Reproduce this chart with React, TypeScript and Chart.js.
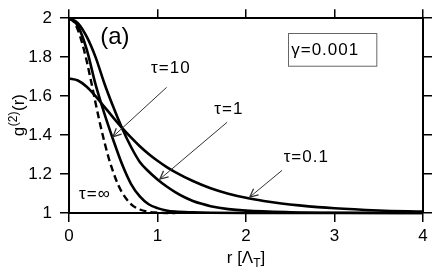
import React, { useEffect, useRef } from "react";
import { Chart, registerables } from "chart.js";
Chart.register(...registerables);

// r in units of thermal wavelength, g2 values
const rInf = [0, 0.05, 0.1, 0.15, 0.2, 0.25, 0.3, 0.35, 0.4, 0.45, 0.5, 0.55, 0.6, 0.7, 0.8, 0.9, 1.0, 1.1, 1.2];
const gInf = [2.0, 1.985, 1.94, 1.87, 1.78, 1.675, 1.565, 1.46, 1.365, 1.28, 1.21, 1.15, 1.105, 1.046, 1.018, 1.006, 1.002, 1.0, 1.0];

const rT10 = [0, 0.1, 0.2, 0.3, 0.4, 0.5, 0.6, 0.7, 0.8, 0.9, 1.0, 1.1, 1.2, 1.4, 1.6, 2.0, 3.0, 4.0];
const gT10 = [2.0, 1.96, 1.84, 1.66, 1.51, 1.375, 1.25, 1.15, 1.085, 1.045, 1.025, 1.013, 1.007, 1.003, 1.001, 1.0, 1.0, 1.0];

const rT1 = [0, 0.1, 0.2, 0.3, 0.4, 0.5, 0.6, 0.7, 0.8, 0.9, 1.0, 1.1, 1.2, 1.3, 1.4, 1.5, 1.6, 1.8, 2.0, 2.5, 3.0, 4.0];
const gT1 = [2.0, 1.975, 1.905, 1.8, 1.665, 1.545, 1.435, 1.34, 1.262, 1.213, 1.172, 1.137, 1.107, 1.082, 1.062, 1.047, 1.035, 1.02, 1.012, 1.004, 1.001, 1.0];

const rT01 = [0, 0.1, 0.2, 0.3, 0.4, 0.5, 0.6, 0.7, 0.8, 0.9, 1.0, 1.1, 1.2, 1.4, 1.6, 1.8, 2.0, 2.2, 2.4, 2.6, 3.0, 3.5, 4.0];
const gT01 = [1.69, 1.68, 1.648, 1.6, 1.545, 1.49, 1.437, 1.388, 1.343, 1.303, 1.268, 1.237, 1.21, 1.164, 1.127, 1.099, 1.078, 1.062, 1.049, 1.039, 1.024, 1.013, 1.007];

const xTicks = [0, 1, 2, 3, 4];
const yTicks = [1, 1.2, 1.4, 1.6, 1.8, 2];

// annotations in data coordinates
const curveLabels = [
  { text: "τ=10", r: 1.151, g: 1.742 },
  { text: "τ=1", r: 1.806, g: 1.534 },
  { text: "τ=0.1", r: 2.681, g: 1.286 },
  { text: "τ=∞", r: 0.293, g: 1.095 },
];
const arrowFrom = [[1.103, 1.645], [1.787, 1.466], [2.408, 1.219]];
const arrowTo = [[0.497, 1.392], [1.027, 1.174], [2.043, 1.082]];
const panelLabel = { text: "(a)", r: 0.519, g: 1.902 };
const gammaBox = { text: "γ=0.001", r0: 2.477, r1: 3.475, g0: 1.758, g1: 1.926 };

const FONT = "'Liberation Sans', Arial, Helvetica, sans-serif";

function pts(rs: number[], gs: number[]) {
  return rs.map((r, i) => ({ x: r, y: gs[i] }));
}

const annot = {
  id: "annot",
  afterDatasetsDraw(chart: any) {
    const ctx = chart.ctx as CanvasRenderingContext2D;
    const xs = chart.scales.x;
    const ys = chart.scales.y;
    const X = (v: number) => xs.getPixelForValue(v);
    const Y = (v: number) => ys.getPixelForValue(v);
    ctx.save();
    ctx.fillStyle = "#000";
    ctx.textAlign = "center";
    ctx.textBaseline = "middle";
    (ctx as any).letterSpacing = "1px";
    ctx.font = `17px ${FONT}`;
    curveLabels.forEach((l) => ctx.fillText(l.text, X(l.r), Y(l.g)));
    ctx.font = `24px ${FONT}`;
    (ctx as any).letterSpacing = "0px";
    ctx.fillText(panelLabel.text, X(panelLabel.r), Y(panelLabel.g));
    // gamma box
    const bx0 = X(gammaBox.r0), bx1 = X(gammaBox.r1), by0 = Y(gammaBox.g1), by1 = Y(gammaBox.g0);
    ctx.strokeStyle = "#666";
    ctx.lineWidth = 1;
    ctx.strokeRect(Math.round(bx0) + 0.5, Math.round(by0) + 0.5, bx1 - bx0, by1 - by0);
    ctx.font = `17px ${FONT}`;
    (ctx as any).letterSpacing = "1px";
    ctx.textAlign = "left";
    ctx.fillText(gammaBox.text, bx0 + 3, (by0 + by1) / 2 + 1);
    // arrows
    ctx.strokeStyle = "#333";
    ctx.lineWidth = 1;
    arrowFrom.forEach((f, i) => {
      const t = arrowTo[i];
      const x0 = X(f[0]), y0 = Y(f[1]), x1 = X(t[0]), y1 = Y(t[1]);
      ctx.beginPath();
      ctx.moveTo(x0, y0);
      ctx.lineTo(x1, y1);
      ctx.stroke();
      const a = Math.atan2(y1 - y0, x1 - x0);
      const L = 9, w = 0.45;
      ctx.lineWidth = 1.3;
      ctx.beginPath();
      ctx.moveTo(x1 - L * Math.cos(a - w), y1 - L * Math.sin(a - w));
      ctx.lineTo(x1, y1);
      ctx.lineTo(x1 - L * Math.cos(a + w), y1 - L * Math.sin(a + w));
      ctx.stroke();
      ctx.lineWidth = 1;
    });
    // axis titles
    const ca = chart.chartArea;
    (ctx as any).letterSpacing = "0px";
    ctx.textAlign = "left";
    ctx.textBaseline = "alphabetic";
    const main = `17px ${FONT}`;
    const small = `12px ${FONT}`;
    // x title: r [Λ_T]
    ctx.font = main;
    const p1 = "r [Λ";
    const p3 = "]";
    const w1 = ctx.measureText(p1).width;
    const w3 = ctx.measureText(p3).width;
    ctx.font = small;
    const w2 = ctx.measureText("T").width;
    const totalX = w1 + w2 + w3;
    const cx = (ca.left + ca.right) / 2;
    const sx = cx - totalX / 2;
    const base = 263;
    ctx.font = main;
    ctx.fillText(p1, sx, base);
    ctx.font = small;
    ctx.fillText("T", sx + w1, base + 4);
    ctx.font = main;
    ctx.fillText(p3, sx + w1 + w2, base);
    // y title: g^(2)(r)
    ctx.save();
    const cy = (ca.top + ca.bottom) / 2;
    ctx.translate(24, cy);
    ctx.rotate(-Math.PI / 2);
    ctx.font = main;
    const q1 = "g", q3 = "(r)";
    const v1 = ctx.measureText(q1).width;
    const v3 = ctx.measureText(q3).width;
    ctx.font = small;
    const v2 = ctx.measureText("(2)").width;
    const qx = -(v1 + v2 + v3) / 2;
    ctx.font = main;
    ctx.fillText(q1, qx, 0);
    ctx.font = small;
    ctx.fillText("(2)", qx + v1 + 0.5, -7);
    ctx.font = main;
    ctx.fillText(q3, qx + v1 + v2 + 1, 0);
    ctx.restore();
    ctx.restore();
  },
};

export default function App() {
  const ref = useRef<HTMLCanvasElement | null>(null);
  useEffect(() => {
    document.body.style.margin = "0";
    const c = ref.current!;
    const tickGrid = {
      drawOnChartArea: false,
      drawTicks: true,
      tickLength: 9,
      color: "#000",
      lineWidth: 1.5,
    };
    const border = { display: true, color: "#000", width: 2 };
    const chart = new Chart(c, {
      type: "line",
      data: {
        datasets: [
          { data: pts(rInf, gInf), borderColor: "#000", borderWidth: 2.4, borderDash: [7, 4], pointRadius: 0, cubicInterpolationMode: "monotone", clip: 3 } as any,
          { data: pts(rT10, gT10), borderColor: "#000", borderWidth: 2.6, pointRadius: 0, cubicInterpolationMode: "monotone", clip: 3 } as any,
          { data: pts(rT1, gT1), borderColor: "#000", borderWidth: 2.6, pointRadius: 0, cubicInterpolationMode: "monotone", clip: 3 } as any,
          { data: pts(rT01, gT01), borderColor: "#000", borderWidth: 2.6, pointRadius: 0, cubicInterpolationMode: "monotone", clip: 3 } as any,
        ],
      },
      options: {
        responsive: false,
        animation: false,
        devicePixelRatio: 1,
        layout: { padding: 0 },
        plugins: { legend: { display: false }, tooltip: { enabled: false } },
        scales: {
          x: {
            type: "linear",
            position: "bottom",
            min: 0,
            max: 4,
            afterBuildTicks: (s: any) => { s.ticks = xTicks.map((v) => ({ value: v })); },
            afterFit: (s: any) => { s.height = 59; },
            ticks: { color: "#000", font: { family: FONT, size: 17 }, padding: 4, maxRotation: 0, autoSkip: false },
            grid: tickGrid,
            border,
          },
          x2: {
            type: "linear",
            position: "top",
            min: 0,
            max: 4,
            afterBuildTicks: (s: any) => { s.ticks = xTicks.map((v) => ({ value: v })); },
            afterFit: (s: any) => { s.height = 14; },
            ticks: { display: false },
            grid: tickGrid,
            border,
          },
          y: {
            type: "linear",
            position: "left",
            min: 1,
            max: 2,
            afterBuildTicks: (s: any) => { s.ticks = yTicks.map((v) => ({ value: v })); },
            afterFit: (s: any) => { s.width = 69; },
            ticks: {
              color: "#000",
              font: { family: FONT, size: 17 },
              padding: 8,
              autoSkip: false,
              callback: (v: any) => String(Math.round(Number(v) * 10) / 10),
            },
            grid: tickGrid,
            border,
          },
          y2: {
            type: "linear",
            position: "right",
            min: 1,
            max: 2,
            afterBuildTicks: (s: any) => { s.ticks = yTicks.map((v) => ({ value: v })); },
            afterFit: (s: any) => { s.width = 13; },
            ticks: { display: false },
            grid: tickGrid,
            border,
          },
        },
      } as any,
      plugins: [annot],
    });
    return () => chart.destroy();
  }, []);
  return (
    <div style={{ position: "absolute", left: 0, top: 0, width: 436, height: 272, background: "#fff" }}>
      <canvas ref={ref} width={436} height={272} style={{ display: "block", width: 436, height: 272 }} />
    </div>
  );
}
